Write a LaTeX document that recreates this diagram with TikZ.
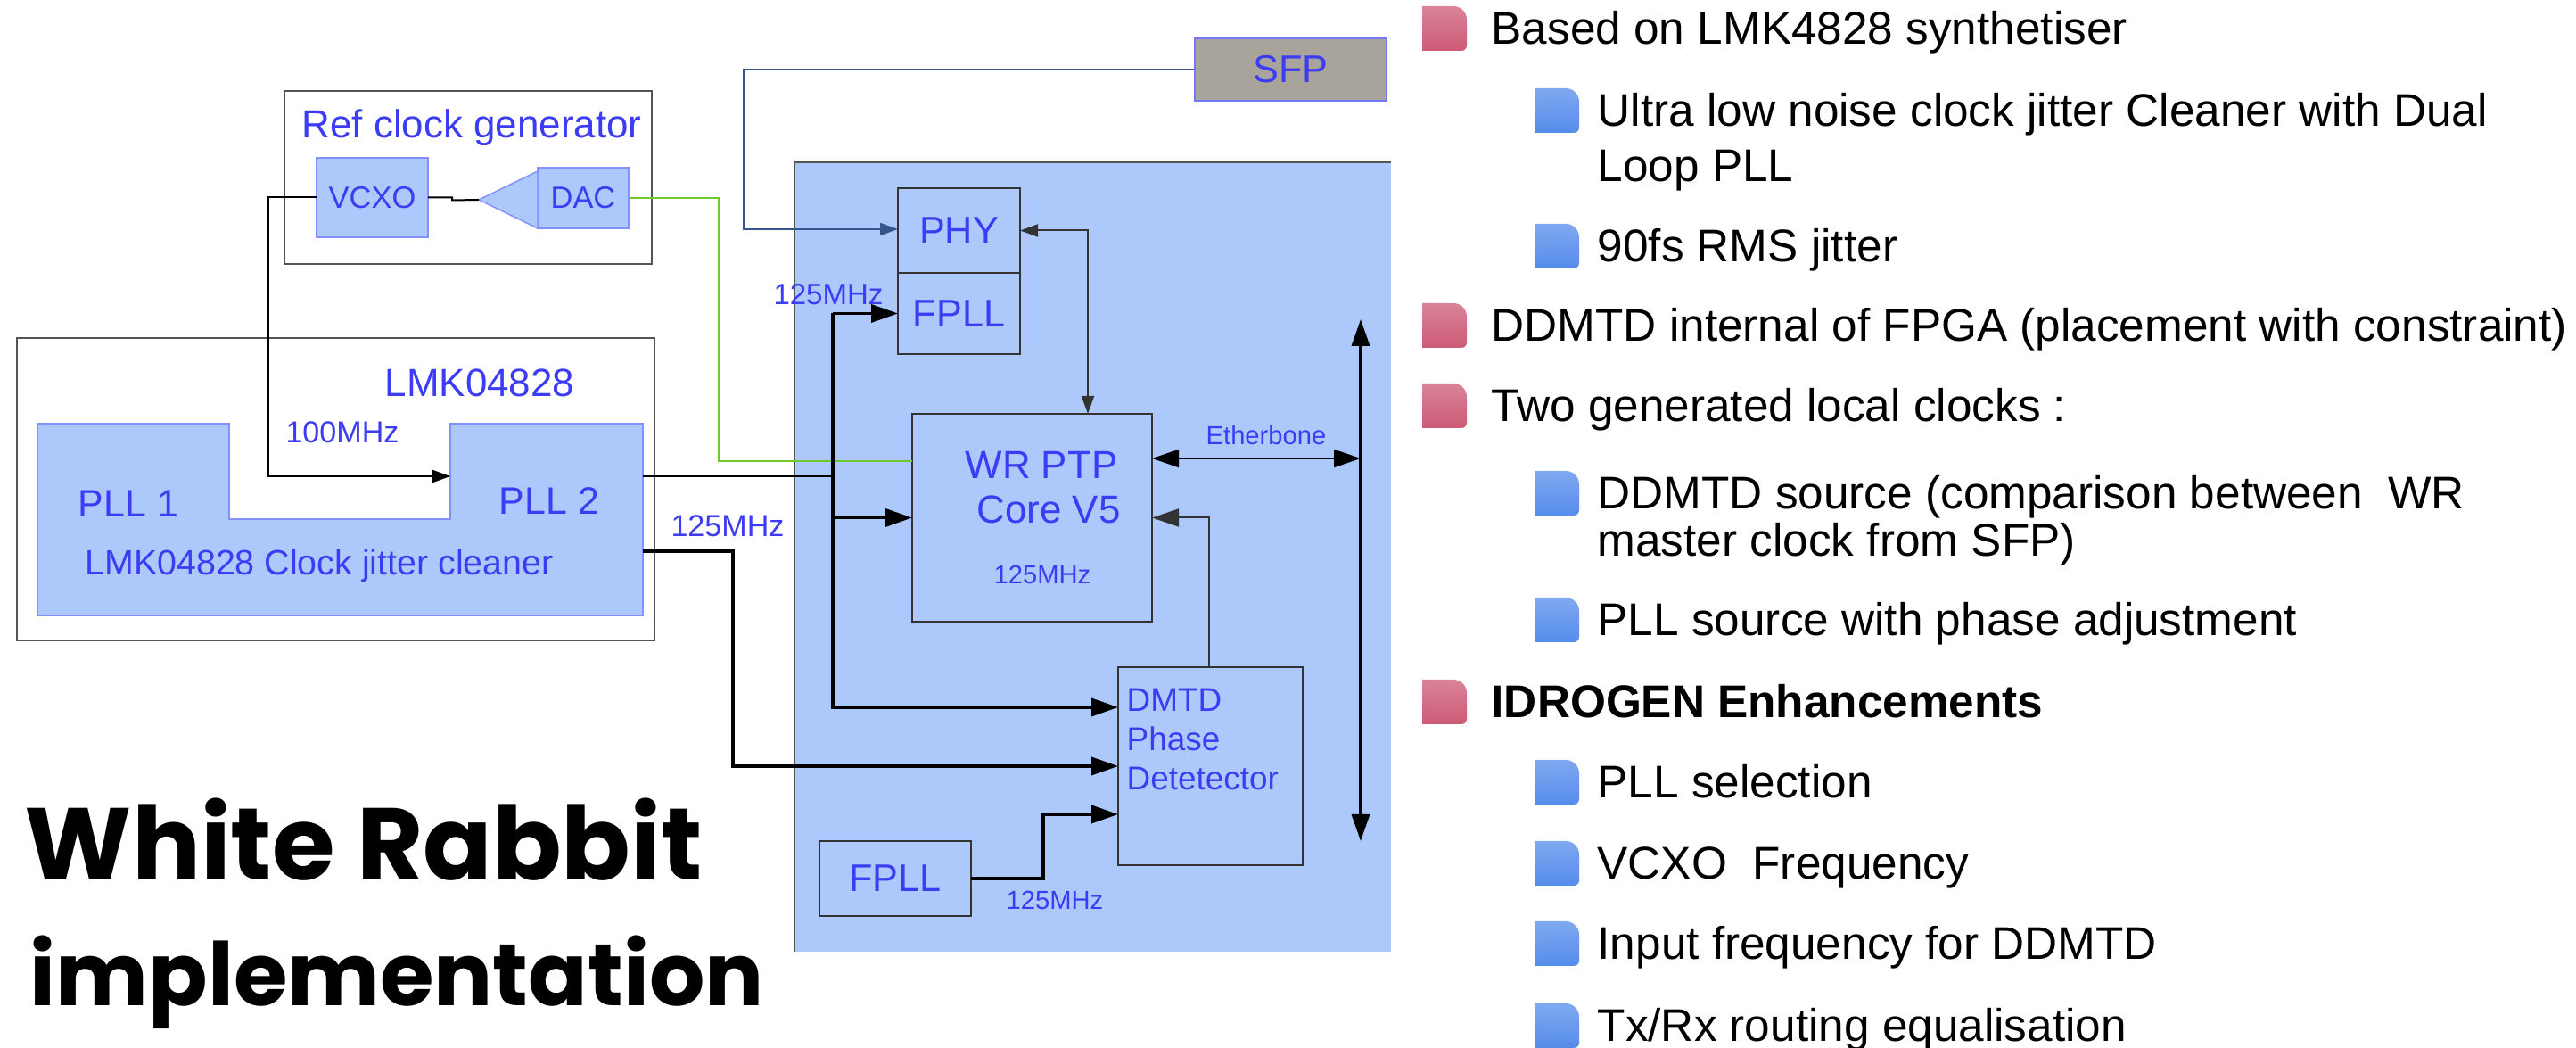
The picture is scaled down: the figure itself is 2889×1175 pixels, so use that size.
\documentclass[tikz,border=0pt]{standalone}
\usepackage{graphicx}
\usepackage{fontspec}
\setmainfont{Liberation Sans}
\newfontfamily\rabbitfont{Poppins}
\usetikzlibrary{arrows.meta, calc}

\definecolor{wrblue}{RGB}{60,60,245}
\definecolor{boxfill}{RGB}{173,201,252}
\definecolor{plledge}{RGB}{130,145,255}
\definecolor{edgegray}{RGB}{85,85,85}
\definecolor{sfpfill}{RGB}{168,163,155}
\definecolor{sfpline}{RGB}{55,85,140}
\definecolor{dacgreen}{RGB}{110,200,40}
\definecolor{pinkbul}{RGB}{205,90,118}
\definecolor{bluebul}{RGB}{85,140,235}

\tikzset{
  outerbox/.style={draw=edgegray, line width=0.25mm, inner sep=0, outer sep=0},
  pllbox/.style={fill=boxfill, draw=plledge, line width=0.15mm, inner sep=0, outer sep=0, text=wrblue},
  fpgabox/.style={fill=boxfill, draw=black!80, line width=0.22mm, inner sep=0, outer sep=0, text=wrblue},
  wrtxt/.style={text=wrblue, inner sep=0},
  listtxt/.style={inner sep=0, anchor=base west, font=\fontsize{14.6}{17}\selectfont},
  thinwire/.style={line width=0.2mm},
  thickwire/.style={line width=0.35mm},
  smalltip/.style={>={Triangle[length=2mm,width=1.4mm]}},
}

\begin{document}
\begin{tikzpicture}[x=0.1mm, y=-0.1mm, >={Triangle[length=3mm,width=2mm]}]
  \useasboundingbox (0,0) rectangle (2889,1175);

  % FPGA area
  \node[fill=boxfill, minimum width=66.9mm, minimum height=88.5mm, inner sep=0, outer sep=0] (fpga) at (1225.5,624.5) {};
  \draw[edgegray, line width=0.22mm] (fpga.south west) -- (fpga.north west) -- (fpga.north east);

  % Ref clock generator
  \node[outerbox, minimum width=41.2mm, minimum height=19.4mm] (refgen) at (525,199) {};
  \node[wrtxt, anchor=base, font=\fontsize{12.5}{15}\selectfont] (reftitle) at (529,155) {Ref clock generator};
  \node[pllbox, minimum width=12.5mm, minimum height=8.9mm, font=\fontsize{9.8}{12}\selectfont] (vcxo) at (417.5,221.5) {VCXO};
  \node[pllbox, minimum width=10.2mm, minimum height=6.8mm, font=\fontsize{9.8}{12}\selectfont] (dac) at (654,222) {DAC};
  \coordinate (amptip) at (537,224);
  \filldraw[fill=boxfill, draw=plledge, line width=0.15mm] (amptip) -- (603,192) -- (603,256) -- cycle;

  % LMK04828
  \node[outerbox, minimum width=71.5mm, minimum height=33.9mm] (lmk) at (376.5,548.5) {};
  \node[wrtxt, anchor=base, font=\fontsize{12.5}{15}\selectfont] (lmktitle) at (538,445) {LMK04828};
  \filldraw[fill=boxfill, draw=plledge, line width=0.15mm]
     (42,475) -- (257,475) -- (257,582) -- (505,582) -- (505,475) -- (721,475) -- (721,690) -- (42,690) -- cycle;
  \node[minimum width=21.5mm, minimum height=21.5mm, inner sep=0, outer sep=0] (pll1) at (149.5,582.5) {};
  \node[minimum width=21.6mm, minimum height=21.5mm, inner sep=0, outer sep=0] (pll2) at (613,582.5) {};
  \node[wrtxt, anchor=base, font=\fontsize{12.2}{14}\selectfont] (pll1txt) at (144,580) {PLL 1};
  \node[wrtxt, anchor=base, font=\fontsize{12.2}{14}\selectfont] (pll2txt) at (616,577) {PLL 2};
  \node[wrtxt, anchor=base, font=\fontsize{11.2}{13}\selectfont] (cleaner) at (358,645) {LMK04828 Clock jitter cleaner};
  \node[wrtxt, anchor=base, font=\fontsize{9.7}{12}\selectfont] (f100) at (384,497) {100MHz};

  % SFP and FPGA blocks
  \node[fill=sfpfill, draw=wrblue!70, line width=0.15mm, inner sep=0, text=wrblue,
        minimum width=21.5mm, minimum height=7mm, font=\fontsize{12.3}{14}\selectfont] (sfp) at (1447.5,78) {SFP};
  \node[fpgabox, minimum width=13.7mm, minimum height=9.5mm, font=\fontsize{12.3}{14}\selectfont] (phy) at (1075.5,258.5) {PHY};
  \node[fpgabox, minimum width=13.7mm, minimum height=9.1mm, font=\fontsize{12.3}{14}\selectfont] (fpll) at (1075.5,351.5) {FPLL};
  \node[fpgabox, minimum width=26.9mm, minimum height=23.3mm] (wrptp) at (1157.5,580.5) {};
  \node[fpgabox, minimum width=20.7mm, minimum height=22.2mm] (dmtd) at (1357.5,859) {};
  \node[fpgabox, minimum width=17mm, minimum height=8.4mm, font=\fontsize{12.3}{14}\selectfont] (fpllb) at (1004,985) {FPLL};

  \node[wrtxt, anchor=base, font=\fontsize{12.5}{15}\selectfont] (wrtxt1) at (1168,537) {WR PTP};
  \node[wrtxt, anchor=base, font=\fontsize{12.5}{15}\selectfont] (wrtxt2) at (1176,587) {Core V5};
  \node[wrtxt, anchor=base, font=\fontsize{8.3}{10}\selectfont] (wrtxt3) at (1169,655) {125MHz};
  \node[wrtxt, anchor=base west, font=\fontsize{10.5}{12}\selectfont] (dmtd1) at (1263,798) {DMTD};
  \node[wrtxt, anchor=base west, font=\fontsize{10.5}{12}\selectfont] (dmtd2) at (1263,842) {Phase};
  \node[wrtxt, anchor=base west, font=\fontsize{10.5}{12}\selectfont] (dmtd3) at (1263,886) {Detetector};

  % Frequency labels
  \node[wrtxt, anchor=base, font=\fontsize{9.7}{12}\selectfont] (f125a) at (816,602) {125MHz};
  \node[wrtxt, anchor=base, font=\fontsize{9.4}{11}\selectfont] (f125b) at (929,342) {125MHz};
  \node[wrtxt, anchor=base, font=\fontsize{8.3}{10}\selectfont] (f125c) at (1183,1020) {125MHz};
  \node[wrtxt, anchor=base, font=\fontsize{8.3}{10}\selectfont] (ether) at (1420,499) {Etherbone};

  % Connections
  \coordinate (c100) at (301,534);
  \coordinate (gturn) at (806,517);
  \coordinate (sturn) at (834,257);
  \coordinate (pturn) at (1220,257);
  \coordinate (vbot) at (934,793);
  \coordinate (c2) at (822,618);
  \coordinate (d2) at (822,859);
  \coordinate (dturn) at (1356,580);
  \coordinate (fturn) at (1170,913);
  \coordinate (eb) at (1526,514);
  \coordinate (bustop) at (1526,358);
  \coordinate (busbot) at (1526,943);

  \draw[thinwire] (vcxo.east) -- ++(27,0) -- ++(0,3) -- (amptip);
  \draw[thinwire, smalltip, ->] (vcxo.west) -| (c100) -- (c100 -| pll2.west);
  \draw[thinwire, dacgreen] (dac.east) -| (gturn) -- (gturn -| wrptp.west);
  \draw[thinwire, sfpline, smalltip, ->] (sfp.west) -| (sturn) -- (sturn -| phy.west);
  \draw[thinwire, black!80, smalltip, <->] (phy.east) -| (pturn |- wrptp.north);
  \draw[thinwire] (c100 -| pll2.east) -- (c100 -| vbot);
  \draw[thickwire, ->] (fpll.west -| vbot) -- (fpll.west);
  \draw[thickwire, ->] (fpll.west -| vbot) |- (vbot -| dmtd.west);
  \draw[thickwire, ->] (wrptp.west -| vbot) -- (wrptp.west);
  \draw[thickwire, ->] (c2 -| pll2.east) -- (c2) -- (d2) -- (d2 -| dmtd.west);
  \draw[thinwire, black!80, ->] (dmtd.north -| dturn) |- (wrptp.east);
  \draw[thickwire, ->] (fpllb.east) -| (fturn) -- (fturn -| dmtd.west);
  \draw[thinwire, <->] (wrptp.east |- eb) -- (eb);
  \draw[thickwire, <->] (bustop) -- (busbot);

  % Title
  \node[anchor=base west, inner sep=0] (title1) at (27,987) {\resizebox{76mm}{!}{\rabbitfont\bfseries White Rabbit}};
  \node[anchor=base west, inner sep=0] (title2) at (33,1128) {\resizebox{82.3mm}{!}{\rabbitfont\bfseries implementation}};

  % Bullets
  \foreach \y in {32,365,455,787} {
    \shade[top color=pinkbul!75!white, bottom color=pinkbul]
      (1595,\y+25) -- (1595,\y-25) [rounded corners=1.5mm] -- (1645,\y-25) [rounded corners=0.6mm]
      -- (1645,\y+25) [sharp corners] -- cycle;
  }
  \foreach \y in {124,276,553,695,877,968,1058,1150} {
    \shade[top color=bluebul!75!white, bottom color=bluebul]
      (1721,\y+25) -- (1721,\y-25) [rounded corners=1.5mm] -- (1771,\y-25) [rounded corners=0.6mm]
      -- (1771,\y+25) [sharp corners] -- cycle;
  }

  % Text list
  \node[listtxt] (l1) at (1672,50) {Based on LMK4828 synthetiser};
  \node[listtxt] (l2) at (1791,142) {Ultra low noise clock jitter Cleaner with Dual};
  \node[listtxt] (l3) at (1791,204) {Loop PLL};
  \node[listtxt] (l4) at (1791,294) {90fs RMS jitter};
  \node[listtxt] (l5) at (1672,383) {DDMTD internal of FPGA (placement with constraint)};
  \node[listtxt] (l6) at (1672,473) {Two generated local clocks :};
  \node[listtxt] (l7) at (1791,571) {DDMTD source (comparison between~ WR};
  \node[listtxt] (l8) at (1791,624) {master clock from SFP)};
  \node[listtxt] (l9) at (1791,713) {PLL source with phase adjustment};
  \node[listtxt, font=\fontsize{14.6}{17}\selectfont\bfseries] (l10) at (1672,805) {IDROGEN Enhancements};
  \node[listtxt] (l11) at (1791,895) {PLL selection};
  \node[listtxt] (l12) at (1791,986) {VCXO~ Frequency};
  \node[listtxt] (l13) at (1791,1076) {Input frequency for DDMTD};
  \node[listtxt] (l14) at (1791,1168) {Tx/Rx routing equalisation};
\end{tikzpicture}
\end{document}
